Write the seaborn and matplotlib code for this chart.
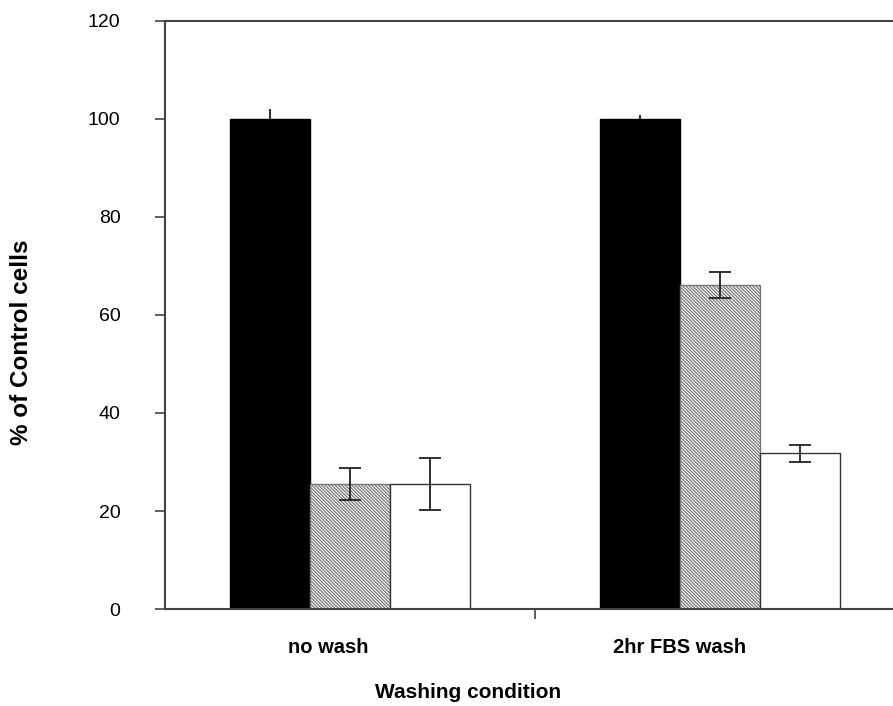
import pandas as pd
import seaborn as sns
import matplotlib.pyplot as plt
from matplotlib.transforms import ScaledTranslation

# values
conditions = ["no wash", "2hr FBS wash"]
series = ["Control", "Treatment 1", "Treatment 2"]
means = {
    "Control": [100.0, 100.0],
    "Treatment 1": [25.5, 66.1],
    "Treatment 2": [25.5, 31.8],
}
errors = {
    "Control": [2.0, 0.8],
    "Treatment 1": [3.2, 2.7],
    "Treatment 2": [5.3, 1.7],
}
yticks = [0, 20, 40, 60, 80, 100, 120]

rows = []
for s in series:
    for c, v in zip(conditions, means[s]):
        rows.append({"condition": c, "series": s, "value": v})
df = pd.DataFrame(rows)

sns.set_style("ticks")
plt.rcParams["font.family"] = ["Liberation Sans", "DejaVu Sans"]
plt.rcParams["text.color"] = "black"
plt.rcParams["axes.labelcolor"] = "black"
plt.rcParams["xtick.labelcolor"] = "black"
plt.rcParams["ytick.labelcolor"] = "black"
plt.rcParams["hatch.color"] = "#4a4a4a"
plt.rcParams["hatch.linewidth"] = 0.9

fig = plt.figure(figsize=(8.93, 7.06), dpi=100)
ax = fig.add_axes([165 / 893, 97 / 706, 740 / 893, 588 / 706])

sns.barplot(
    data=df, x="condition", y="value", hue="series",
    order=conditions, hue_order=series,
    palette=["black", "white", "white"],
    width=0.65, errorbar=None, legend=False, ax=ax,
    saturation=1,
)

edge_colors = ["black", "#777777", "#333333"]
for i, (cont, s) in enumerate(zip(ax.containers, series)):
    xs = []
    hs = []
    for bar in cont:
        bar.set_edgecolor(edge_colors[i])
        bar.set_linewidth(1.0)
        if i == 1:
            bar.set_hatch("\\" * 10)
        xs.append(bar.get_x() + bar.get_width() / 2)
        hs.append(bar.get_height())
    if i == 0:
        # control bars: only a small stub above the bar, no caps
        ax.errorbar(xs, hs, yerr=[[0] * len(xs), errors[s]], fmt="none",
                    ecolor="#333333", elinewidth=1.5, capsize=0, zorder=5)
    else:
        ax.errorbar(xs, hs, yerr=errors[s], fmt="none", ecolor="#222222",
                    elinewidth=1.3, capsize=8, capthick=1.3, zorder=5)

ax.set_xlim(-0.5, 1.5)
ax.set_ylim(0, 120)
ax.set_yticks(yticks)

# major ticks on group borders, labels on minor ticks at group centers
ax.set_xticks([0.5, 1.5])
ax.set_xticklabels([])
ax.set_xticks([0, 1], minor=True)
ax.set_xticklabels(conditions, minor=True, fontsize=14.5, fontweight="bold")
ax.tick_params(axis="x", which="minor", length=0, pad=21)
ax.tick_params(axis="x", which="major", length=7, width=1.2, color="#444444")
ax.tick_params(axis="y", length=7, width=1.2, color="#444444", pad=25,
               labelsize=14)
for lab, dx in zip(ax.get_xticklabels(minor=True), [-0.22, -0.4]):
    lab.set_transform(lab.get_transform() + ScaledTranslation(dx, 0, fig.dpi_scale_trans))

ax.set_xlabel("Washing condition", fontsize=15, fontweight="bold")
ax.set_ylabel("% of Control cells", fontsize=17.5, fontweight="bold")
ax.xaxis.set_label_coords(0.41, -0.125)
ax.yaxis.set_label_coords(-0.178, 0.454)

for side in ["left", "bottom", "top", "right"]:
    ax.spines[side].set_color("#444444")
    ax.spines[side].set_linewidth(1.5)

fig.savefig("out.png", dpi=100)
